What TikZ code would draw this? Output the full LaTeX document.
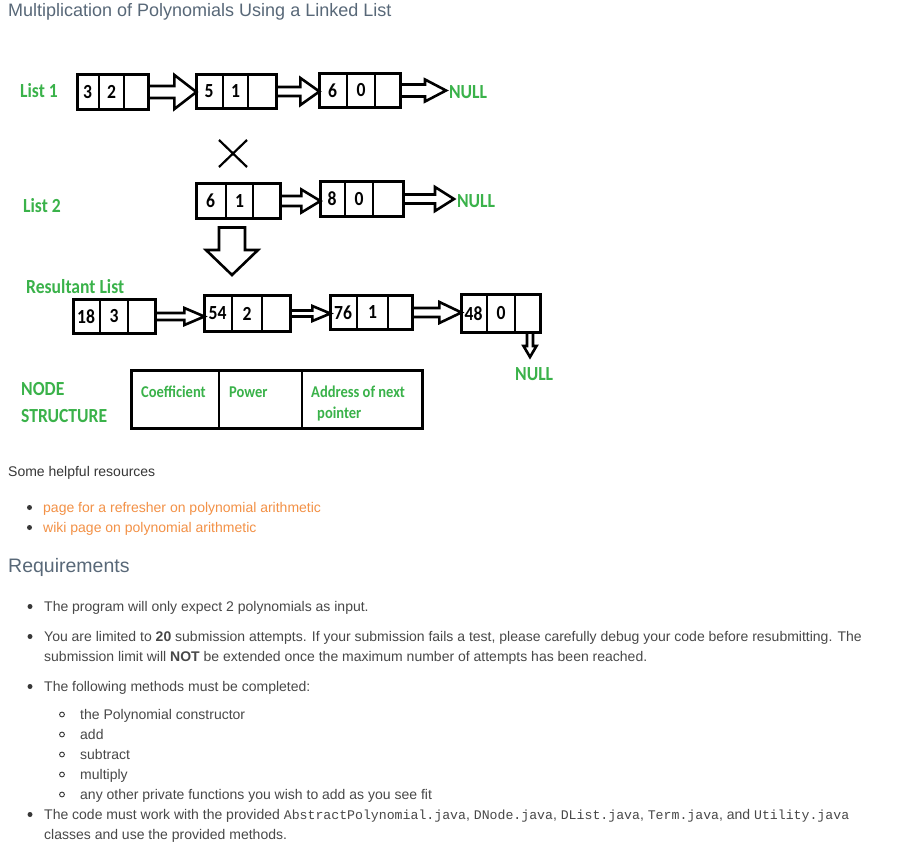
\documentclass[tikz,border=0pt]{standalone}
\usepackage{fontspec}
\setmainfont{Liberation Sans}
\newfontfamily\diagfont[FakeStretch=0.88]{Carlito}
\newfontfamily\jmono{Liberation Mono}
\usetikzlibrary{calc}
\definecolor{gfgreen}{RGB}{58,178,74}
\definecolor{headcol}{RGB}{88,104,120}
\definecolor{bodycol}{RGB}{72,72,72}
\definecolor{darkcol}{RGB}{55,55,55}
\definecolor{linkcol}{RGB}{243,145,70}
\tikzset{
  cellbox/.style={draw=black, line width=2.8pt, inner sep=0pt, outer sep=0pt},
  divider/.style={draw=black, line width=1.8pt},
  digit/.style={font=\diagfont\bfseries\fontsize{20}{20}\selectfont, inner sep=0pt, text=black},
  glabel/.style={font=\diagfont\bfseries\fontsize{20}{20}\selectfont, text=gfgreen, inner sep=0pt, anchor=base west},
  nulllabel/.style={glabel, outer xsep=3pt},
  slabel/.style={font=\diagfont\bfseries\fontsize{16.5}{16.5}\selectfont, text=gfgreen, inner sep=0pt, anchor=base west},
  blk/.style={draw=black, line width=2.6pt, line join=miter},
  xline/.style={draw=black, line width=2.2pt},
  body/.style={font=\fontsize{14}{14}\selectfont, text=bodycol, inner sep=0pt, anchor=base west},
  dark/.style={body, text=darkcol},
  link/.style={body, text=linkcol},
  heading/.style={text=headcol, inner sep=0pt, anchor=base west},
  dot/.style={fill=darkcol, draw=none},
  ring/.style={draw=darkcol, line width=0.9pt},
}
% #1 name, #2 x1, #3 d1, #4 d2, #5 x2, #6 y1, #7 y2, #8 coef, #9 power
\newcommand\llbox[9]{%
  \node[cellbox, minimum width={#5-#2-2.8}, minimum height={#7-#6-2.8}] (#1) at ({(#2+#5)/2},{(#6+#7)/2}) {};
  \draw[divider] (#3,#6+1) -- (#3,#7-1);
  \draw[divider] (#4,#6+1) -- (#4,#7-1);
  \node[digit] (#1c) at ({(#2+#3)/2},{(#6+#7)/2}) {#8};
  \node[digit] (#1p) at ({(#3+#4)/2},{(#6+#7)/2}) {#9};
}
% right block arrow: #1 start, #2 tip (x only), #3 shaft half, #4 head half, #5 head length
\newcommand\rarrow[5]{%
  \draw[blk] let \p1=(#1), \p2=(#2 |- #1) in
    (\x1,\y1+#3) -- (\x2-#5,\y1+#3) -- (\x2-#5,\y1+#4) -- (\x2,\y1)
    -- (\x2-#5,\y1-#4) -- (\x2-#5,\y1-#3) -- (\x1,\y1-#3);}
% down block arrow: #1 start, #2 tip (y only), #3 shaft half, #4 head half, #5 head length
\newcommand\darrow[5]{%
  \draw[blk] let \p1=(#1), \p2=(#2) in
    (\x1-#3,\y1) -- (\x1-#3,\y2+#5) -- (\x1-#4,\y2+#5) -- (\x1,\y2)
    -- (\x1+#4,\y2+#5) -- (\x1+#3,\y2+#5) -- (\x1+#3,\y1) -- cycle;}
\begin{document}
\begin{tikzpicture}[x=1pt,y=-1pt]
\path[use as bounding box, fill=white] (0,0) rectangle (897,846);

% title
\node[heading, font=\fontsize{18}{18}\selectfont] (title) at (8,16) {Multiplication of Polynomials Using a Linked List};

% ---------- List 1
\node[glabel] (l1lab) at (20,97) {List 1};
\llbox{a1}{76}{99}{124}{150}{73}{111}{3}{2}
\llbox{a2}{195}{223}{248}{278}{73}{110}{5}{1}
\llbox{a3}{318}{347}{375}{402}{72}{109}{6}{0}
\node[nulllabel] (null1) at (446,98) {NULL};
\rarrow{a1.east}{a2.west}{6pt}{17pt}{22pt}
\rarrow{a2.east}{a3.west}{4.5pt}{13.5pt}{19pt}
\rarrow{a3.east}{null1.west}{6pt}{11pt}{21pt}

% multiplication sign
\draw[xline] (219,140) -- (247,167);
\draw[xline] (247,140) -- (219,167);

% ---------- List 2
\node[glabel] (l2lab) at (23,212) {List 2};
\llbox{b1}{195}{226}{253}{282}{182}{220}{6}{1}
\llbox{b2}{319}{345}{373}{405}{180}{218}{8}{0}
\node[nulllabel] (null2) at (454,207) {NULL};
\rarrow{b1.east}{b2.west}{5pt}{11.5pt}{19pt}
\rarrow{b2.east}{null2.west}{4.5pt}{12pt}{19pt}

% big down arrow
\coordinate (dtop) at (232,227.5);
\coordinate (dtip) at (232,275);
\darrow{dtop}{dtip}{13pt}{26pt}{25pt}

% ---------- Resultant list
\node[glabel] (rlab) at (26,293) {Resultant List};
\llbox{r1}{72}{100}{128}{157}{298}{335}{18}{3}
\llbox{r2}{203}{232}{262}{292}{294}{333}{54}{2}
\llbox{r3}{329}{357}{388}{414}{294}{331}{76}{1}
\llbox{r4}{460}{487}{515}{542}{293}{334}{48}{0}
\rarrow{r1.east}{r2.west}{3.5pt}{8.5pt}{20pt}
\rarrow{r2.east}{r3.west}{3pt}{7.5pt}{18pt}
\rarrow{r3.east}{r4.west}{4.5pt}{10.5pt}{22pt}
\coordinate (n3tip) at (530,357);
\coordinate (n3top) at (r4.south -| n3tip);
\darrow{n3top}{n3tip}{3pt}{6.5pt}{11pt}
\node[glabel] (null3) at (515,380) {NULL};

% ---------- Node structure
\node[glabel] (nodelab) at (21,395) {NODE};
\node[glabel] (structlab) at (21,422) {STRUCTURE};
\node[cellbox, line width=2.6pt, minimum width=291.4, minimum height=58.4] (ns) at (277,399.5) {};
\draw[divider] (219,370) -- (219,429);
\draw[divider] (302,370) -- (302,429);
\node[slabel] (coef) at (141,397) {Coefficient};
\node[slabel] (pow) at (229,397) {Power};
\node[slabel] (addr) at (311,397) {Address of next};
\node[slabel] (ptr) at (317,418) {pointer};

% ---------- Resources
\node[dark] (res) at (8,476) {Some helpful resources};
\fill[dot] (29.5,507.5) circle (2.5);
\node[link] (lk1) at (43,512) {page for a refresher on polynomial arithmetic};
\fill[dot] (29.5,527.5) circle (2.5);
\node[link] (lk2) at (43,532) {wiki page on polynomial arithmetic};

% ---------- Requirements
\node[heading, font=\fontsize{19.5}{19.5}\selectfont] (req) at (8,572) {Requirements};

\fill[dot] (30,606.5) circle (2.5);
\node[body] (t1) at (44,611) {The program will only expect 2 polynomials as input.};
\fill[dot] (30,636.5) circle (2.5);
\node[body] (t2) at (44,641) {You are limited to \textbf{20} submission attempts. If your submission fails a test, please carefully debug your code before resubmitting. The};
\node[body] (t3) at (44,661) {submission limit will \textbf{NOT} be extended once the maximum number of attempts has been reached.};
\fill[dot] (30,686.5) circle (2.5);
\node[body] (t4) at (44,691) {The following methods must be completed:};
\draw[ring] (62,714.5) circle (2.4);
\node[body] (s1) at (80,719) {the Polynomial constructor};
\draw[ring] (62,734.5) circle (2.4);
\node[body] (s2) at (80,739) {add};
\draw[ring] (62,754.5) circle (2.4);
\node[body] (s3) at (80,759) {subtract};
\draw[ring] (62,774.5) circle (2.4);
\node[body] (s4) at (80,779) {multiply};
\draw[ring] (62,794.5) circle (2.4);
\node[body] (s5) at (80,799) {any other private functions you wish to add as you see fit};
\fill[dot] (30,814.5) circle (2.5);
\node[body] (t5) at (44,819) {The code must work with the provided {\jmono\fontsize{13.2}{13}\selectfont AbstractPolynomial.java}, {\jmono\fontsize{13.2}{13}\selectfont DNode.java}, {\jmono\fontsize{13.2}{13}\selectfont DList.java}, {\jmono\fontsize{13.2}{13}\selectfont Term.java}, and {\jmono\fontsize{13.2}{13}\selectfont Utility.java}};
\node[body] (t6) at (44,839) {classes and use the provided methods.};
\end{tikzpicture}
\end{document}
